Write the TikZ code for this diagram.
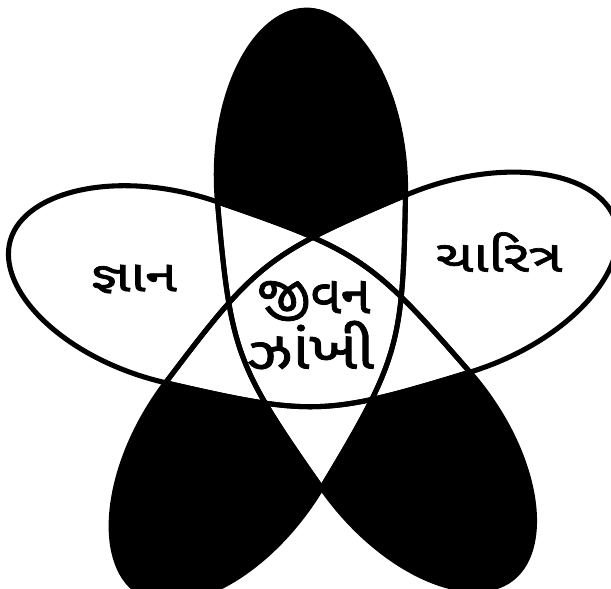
\documentclass[tikz,border=0pt]{standalone}
\usepackage{fontspec}
\usepackage{tikz}
\newfontfamily\gujfont[Script=Gujarati,FakeBold=1.5]{Noto Sans Gujarati UI}

% one petal, turned about the centre of the star
\newcommand{\petalpath}[1]{[shift={(316,328)},rotate=#1] (0,160) .. controls (81.7,34.2) and (86.3,20.5) .. (94.1,-129.4) .. controls (99.5,-233.3) and (52,-318) .. (0,-318) .. controls (-52,-318) and (-99.5,-233.3) .. (-94.1,-129.4) .. controls (-86.3,20.5) and (-81.7,34.2) .. (0,160) -- cycle}

\begin{document}
\begin{tikzpicture}[x=0.75pt,y=0.75pt,yscale=-1,xscale=1,
  petalline/.style={line width=3.8pt,line join=miter},
  bigtext/.style={font=\gujfont\fontsize{40}{44}\selectfont,inner sep=0.75pt},
  sidetext/.style={font=\gujfont\fontsize{33}{36}\selectfont,inner sep=0.75pt,xscale=1.3}]
\useasboundingbox (0,0) rectangle (611,589);

%Shape: dark petals
\fill [black] \petalpath{-2};
\fill [black] \petalpath{142};
\fill [black] \petalpath{214};
%Shape: white petals
\fill [white] \petalpath{70};
\fill [white] \petalpath{286};
%Shape: overlaps stay white
\begin{scope}
\clip \petalpath{-2};
\fill [white] \petalpath{142};
\fill [white] \petalpath{214};
\end{scope}
\begin{scope}
\clip \petalpath{142};
\fill [white] \petalpath{214};
\end{scope}

%Shape: outlines
\draw [petalline] \petalpath{-2};
\draw [petalline] \petalpath{70};
\draw [petalline] \petalpath{142};
\draw [petalline] \petalpath{214};
\draw [petalline] \petalpath{286};

% Text Node
\node [sidetext] (gyan) at (134,279) {જ્ઞાન};
% Text Node
\node [sidetext] (charitra) at (499,252) {ચારિત્ર};
% Text Node
\node [bigtext] (jivan) at (314,301) {જીવન};
% Text Node
\node [bigtext,xscale=1.2] (jhankhi) at (311,345) {ઝાંખી};

\end{tikzpicture}
\end{document}
